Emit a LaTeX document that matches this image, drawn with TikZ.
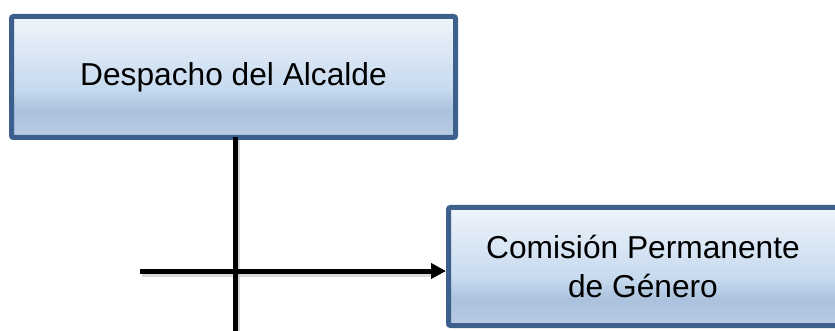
\documentclass[tikz,border=0pt]{standalone}
\usepackage{fontspec}
\setmainfont{Liberation Sans}
\usetikzlibrary{arrows.meta}
\definecolor{bordc}{HTML}{3C5F8E}
\definecolor{shA}{HTML}{EFF4FA}
\definecolor{shB}{HTML}{C6DAEF}
\definecolor{shC}{HTML}{ABC1DD}
\definecolor{shD}{HTML}{B9CCE4}
\pgfdeclareverticalshading{boxshade}{100bp}{color(0bp)=(shD); color(25bp)=(shD); color(36bp)=(shC); color(45bp)=(shB); color(75bp)=(shA); color(100bp)=(shA)}
\tikzset{
  orgbox/.style={draw=bordc, line width=5pt, rounded corners=2pt, shading=boxshade, inner sep=0pt, align=center, font=\fontsize{31.7}{39}\selectfont},
  conn/.style={line width=5pt, black},
  connshadow/.style={line width=5pt, black!25, opacity=0.6}
}
\begin{document}
\begin{tikzpicture}[x=1pt,y=-1pt]
\useasboundingbox (0,0) rectangle (835,331);
\node[orgbox, minimum width=444pt, minimum height=121pt] (a) at (233.5,77) {Despacho del Alcalde};
\coordinate (vtop) at (235,137.5);
\coordinate (vbot) at (235,335);
\coordinate (hstart) at (140,271);
\node[orgbox, minimum width=389pt, minimum height=118pt, text depth=0pt] (b) at (643,266.5) {Comisión Permanente\\de Género};
\draw[connshadow] ([shift={(2,3)}]vtop) -- ([shift={(2,3)}]vbot);
\draw[connshadow] ([shift={(2,3)}]hstart) -- ([shift={(-14,3)}]b.west |- hstart);
\draw[conn] (vtop) -- (vbot);
\draw[conn, -{Triangle[length=15pt,width=15pt]}] (hstart) -- (b.west |- hstart);
\end{tikzpicture}
\end{document}
